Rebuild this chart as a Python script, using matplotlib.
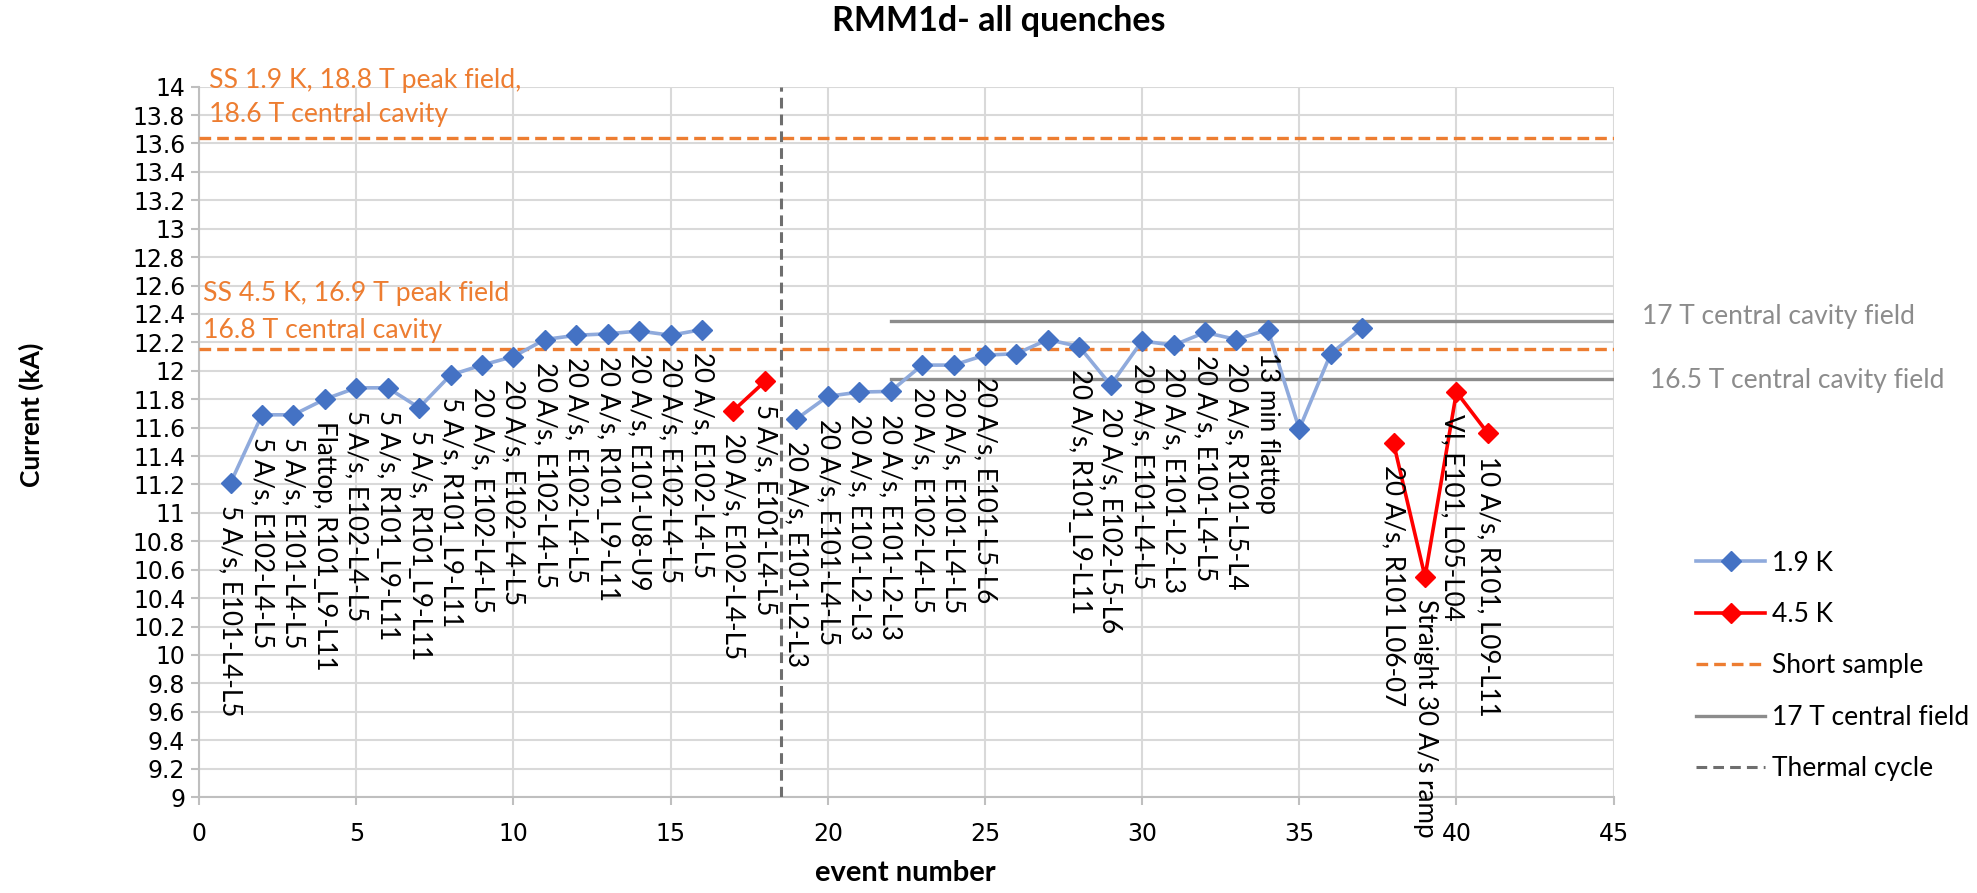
import matplotlib.pyplot as plt
import numpy as np
from matplotlib.ticker import MultipleLocator, FormatStrFormatter

# quench data
ev_19K = [1, 2, 3, 4, 5, 6, 7, 8, 9, 10, 11, 12, 13, 14, 15, 16,
          19, 20, 21, 22, 23, 24, 25, 26, 27, 28, 29, 30, 31, 32, 33, 34, 35, 36, 37]
cur_19K = [11.21, 11.69, 11.69, 11.80, 11.88, 11.88, 11.74, 11.97, 12.04, 12.10, 12.22, 12.25, 12.26, 12.28, 12.25, 12.29,
           11.66, 11.82, 11.85, 11.855, 12.04, 12.04, 12.11, 12.12, 12.22, 12.17, 11.90, 12.21, 12.18, 12.27, 12.22, 12.29,
           11.59, 12.12, 12.30]
ev_45K = [17, 18, 38, 39, 40, 41]
cur_45K = [11.72, 11.925, 11.49, 10.55, 11.85, 11.56]

labels = {
    1: "5 A/s, E101-L4-L5", 2: "5 A/s, E102-L4-L5", 3: "5 A/s, E101-L4-L5",
    4: "Flattop, R101_L9-L11", 5: "5 A/s, E102-L4-L5", 6: "5 A/s, R101_L9-L11",
    7: "5 A/s, R101_L9-L11", 8: "5 A/s, R101_L9-L11", 9: "20 A/s, E102-L4-L5",
    10: "20 A/s, E102-L4-L5", 11: "20 A/s, E102-L4-L5", 12: "20 A/s, E102-L4-L5",
    13: "20 A/s, R101_L9-L11", 14: "20 A/s, E101-U8-U9", 15: "20 A/s, E102-L4-L5",
    16: "20 A/s, E102-L4-L5", 17: "20 A/s, E102-L4-L5", 18: "5 A/s, E101-L4-L5",
    19: "20 A/s, E101-L2-L3", 20: "20 A/s, E101-L4-L5", 21: "20 A/s, E101-L2-L3",
    22: "20 A/s, E101-L2-L3", 23: "20 A/s, E102-L4-L5", 24: "20 A/s, E101-L4-L5",
    25: "20 A/s, E101-L5-L6", 28: "20 A/s, R101_L9-L11", 29: "20 A/s, E102-L5-L6",
    30: "20 A/s, E101-L4-L5", 31: "20 A/s, E101-L2-L3", 32: "20 A/s, E101-L4-L5",
    33: "20 A/s, R101-L5-L4", 34: "13 min flattop",
    38: "20 A/s, R101 L06-07", 39: "Straight 30 A/s ramp", 40: "VI, E101, L05-L04",
    41: "10 A/s, R101, L09-L11",
}

ss_19K = 13.64
ss_45K = 12.15
field_17T = 12.35
field_165T = 11.94
thermal_cycle = 18.5

BLUE = "#4472C4"
BLUE_LINE = "#8FAADC"
RED = "#FF0000"
ORANGE = "#ED7D31"
GREY = "#8C8C8C"
TXT = "Lato"

plt.rcParams['font.family'] = ['DejaVu Sans']

fig = plt.figure(figsize=(19.77, 8.93), dpi=100)
ax = fig.add_axes([0.1007, 0.1075, 0.7155, 0.7955])


def segments(xs, ys):
    xs = np.asarray(xs)
    ys = np.asarray(ys)
    cut = np.where(np.diff(xs) > 1)[0] + 1
    return zip(np.split(xs, cut), np.split(ys, cut))


for i, (sx, sy) in enumerate(segments(ev_19K, cur_19K)):
    ax.plot(sx, sy, color=BLUE_LINE, lw=2.6, marker='D', ms=10.5, mfc=BLUE, mec=BLUE,
            label='1.9 K' if i == 0 else None, zorder=4)
for i, (sx, sy) in enumerate(segments(ev_45K, cur_45K)):
    ax.plot(sx, sy, color=RED, lw=2.6, marker='D', ms=10.5, mfc=RED, mec=RED,
            label='4.5 K' if i == 0 else None, zorder=4)

ax.plot([0, 45], [ss_19K, ss_19K], color=ORANGE, lw=2.4, dashes=(3.5, 1.8), label='Short sample', zorder=3)
ax.plot([0, 45], [ss_45K, ss_45K], color=ORANGE, lw=2.4, dashes=(3.5, 1.8), zorder=3)
ax.plot([22, 45], [field_17T, field_17T], color=GREY, lw=2.4, label='17 T central field', zorder=3)
ax.plot([22, 45], [field_165T, field_165T], color=GREY, lw=2.4, zorder=3)
ax.plot([thermal_cycle, thermal_cycle], [9, 14], color='#6E6E6E', lw=2.2, dashes=(3.5, 2),
        label='Thermal cycle', zorder=3)

# rotated event labels under each point
allx = ev_19K + ev_45K
ally = cur_19K + cur_45K
for x, y in zip(allx, ally):
    if x in labels:
        dx = -3 if x == 40 else 0
        ax.annotate(labels[x], (x, y), xytext=(dx, -16), textcoords='offset points',
                    rotation=270, ha='center', va='top', fontsize=18.7, family=TXT,
                    color='black', zorder=5)

# short sample notes
ax.text(0.3, 13.99, "SS 1.9 K, 18.8 T peak field,", color=ORANGE, fontsize=19.2,
        family=TXT, va='baseline', clip_on=False)
ax.text(0.3, 13.75, "18.6 T central cavity", color=ORANGE, fontsize=19.2,
        family=TXT, va='baseline')
ax.text(0.13, 12.49, "SS 4.5 K, 16.9 T peak field", color=ORANGE, fontsize=19.2,
        family=TXT, va='baseline')
ax.text(0.13, 12.23, "16.8 T central cavity", color=ORANGE, fontsize=19.2,
        family=TXT, va='baseline')
ax.text(45.9, 12.38, "17 T central cavity field", color=GREY, fontsize=19,
        family=TXT, va='center', clip_on=False)
ax.text(46.15, 11.93, "16.5 T central cavity field", color=GREY, fontsize=19,
        family=TXT, va='center', clip_on=False)

ax.set_xlim(0, 45)
ax.set_ylim(9, 14)
ax.xaxis.set_major_locator(MultipleLocator(5))
ax.yaxis.set_major_locator(MultipleLocator(0.2))
ax.yaxis.set_major_formatter(FormatStrFormatter('%g'))
ax.grid(True, color='#D9D9D9', lw=1.5)
ax.set_axisbelow(True)
for s in ['top', 'right']:
    ax.spines[s].set_visible(False)
for s in ['left', 'bottom']:
    ax.spines[s].set_color('#BFBFBF')
    ax.spines[s].set_linewidth(1.5)
ax.tick_params(axis='both', colors='#BFBFBF', length=6, width=1.5, labelcolor='black', labelsize=17)
ax.tick_params(axis='x', pad=12)
ax.tick_params(axis='y', pad=4)

fig.text(0.505, 0.976, "RMM1d- all quenches", ha='center', va='center', fontsize=24.5,
         fontweight='bold', family=TXT)
fig.text(0.016, 0.536, "Current (kA)", ha='center', va='center', rotation=90, fontsize=19,
         fontweight='bold', family=TXT)
fig.text(0.458, 0.022, "event number", ha='center', va='center', fontsize=21,
         fontweight='bold', family=TXT)

ax.legend(loc='upper left', bbox_to_anchor=(0.846, 0.41), bbox_transform=fig.transFigure,
          frameon=False, prop={'family': TXT, 'size': 19}, handlelength=2.6,
          labelspacing=1.0, handletextpad=0.25, borderpad=0.4)

fig.savefig('out.png', dpi=100)
